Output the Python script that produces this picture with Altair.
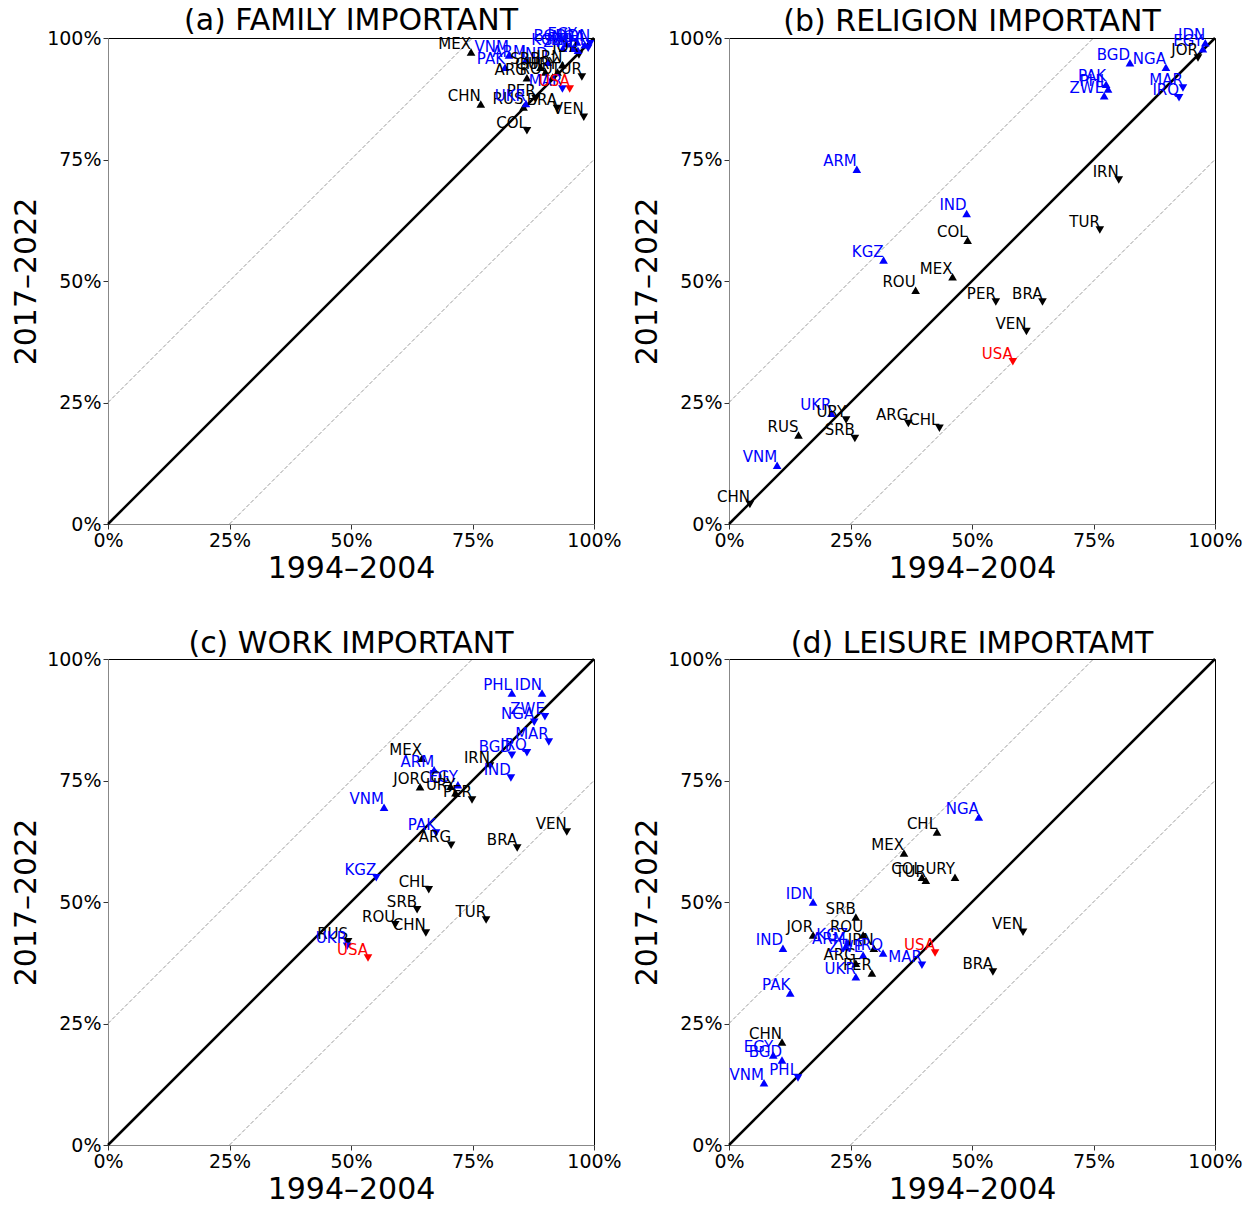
import altair as alt
import pandas as pd

countries = ["ARG", "ARM", "BGD", "BRA", "CHL", "CHN", "COL", "EGY", "IDN", "IND",
             "IRN", "IRQ", "JOR", "KGZ", "MAR", "MEX", "NGA", "PAK", "PER", "PHL",
             "ROU", "RUS", "SRB", "TUR", "UKR", "URY", "USA", "VEN", "VNM", "ZWE"]
blue_countries = ["ARM", "BGD", "EGY", "IDN", "IND", "IRQ", "KGZ", "MAR", "NGA",
                  "PAK", "PHL", "UKR", "VNM", "ZWE"]
red_countries = ["USA"]

# (a) family important: 1994-2004 (x) and 2017-2022 (y), percent
family_x = [86.2, 86.0, 94.4, 92.4, 90.0, 76.7, 86.2, 96.5, 99.2, 90.5,
            93.5, 95.7, 96.9, 93.6, 93.5, 74.7, 98.1, 81.7, 88.0, 98.8,
            91.5, 85.5, 89.0, 97.5, 86.0, 92.5, 95.0, 97.9, 82.5, 96.7]
family_y = [91.8, 95.5, 98.8, 85.5, 93.0, 86.4, 80.9, 99.2, 98.8, 95.0,
            94.5, 97.9, 96.5, 97.9, 89.5, 97.1, 98.6, 94.0, 87.5, 97.9,
            92.0, 85.8, 94.0, 92.0, 86.5, 93.0, 89.5, 83.7, 96.5, 97.5]

# (b) religion important
religion_x = [36.9, 26.3, 82.5, 64.5, 43.3, 4.3, 49.1, 97.5, 98.0, 48.9,
              80.2, 92.6, 96.5, 31.8, 93.4, 46.0, 89.9, 77.6, 54.9, 78.0,
              38.4, 14.3, 25.9, 76.3, 21.1, 24.1, 58.4, 61.2, 9.9, 77.2]
religion_y = [20.7, 73.0, 94.9, 45.7, 19.7, 4.0, 58.4, 97.8, 99.0, 63.9,
              70.8, 87.7, 95.9, 54.3, 89.7, 50.9, 94.0, 90.5, 45.7, 89.5,
              48.1, 18.3, 17.6, 60.5, 22.8, 21.4, 33.4, 39.6, 12.1, 88.1]

# (c) work important
work_x = [70.6, 67.1, 83.1, 84.2, 66.0, 65.4, 70.5, 72.0, 89.3, 82.9,
          78.6, 86.2, 64.2, 55.2, 90.7, 64.6, 87.7, 67.5, 74.9, 83.1,
          59.1, 49.4, 63.6, 77.8, 49.2, 71.5, 53.5, 94.4, 56.8, 89.9]
work_y = [61.7, 77.2, 80.2, 61.1, 52.5, 43.6, 73.8, 74.1, 93.0, 75.5,
          78.0, 80.7, 73.7, 55.0, 82.9, 79.6, 87.0, 64.2, 71.0, 93.0,
          45.3, 41.8, 48.4, 46.3, 40.9, 72.5, 38.5, 64.4, 69.5, 88.1]

# (d) leisure important (RUS not shown)
leisure_x = [26.1, 24.0, 10.9, 54.3, 42.8, 10.9, 39.7, 9.1, 17.3, 11.1,
             29.8, 31.7, 17.3, 24.5, 39.7, 36.0, 51.4, 12.6, 29.4, 14.2,
             27.6, None, 26.1, 40.5, 26.1, 46.5, 42.4, 60.5, 7.2, 27.6]
leisure_y = [37.4, 40.8, 17.5, 35.6, 64.4, 21.2, 55.1, 18.5, 50.0, 40.5,
             40.5, 39.5, 43.2, 41.6, 37.0, 60.1, 67.5, 31.3, 35.4, 13.8,
             43.2, None, 46.9, 54.5, 34.6, 55.1, 39.5, 43.8, 12.8, 39.1]

titles = ["(a) FAMILY IMPORTANT", "(b) RELIGION IMPORTANT",
          "(c) WORK IMPORTANT", "(d) LEISURE IMPORTAMT"]
series = [(family_x, family_y), (religion_x, religion_y),
          (work_x, work_y), (leisure_x, leisure_y)]

x_title = "1994–2004"
y_title = "2017–2022"
tick_values = [0, 25, 50, 75, 100]
FONT = "DejaVu Sans"
W = 486

color_scale = alt.Scale(domain=["black", "blue", "red"], range=["#000000", "#0000ff", "#ff0000"])
shape_scale = alt.Scale(domain=["up", "down"], range=["triangle-up", "triangle-down"])


def make_axis(title, title_pad):
    return alt.Axis(values=tick_values, labelExpr="datum.value + '%'", grid=False,
                    title=title, tickSize=5, tickColor="#333333", domainColor="#888888",
                    labelFontSize=19, labelFont=FONT, labelColor="black",
                    titleFontSize=30, titleFont=FONT, titleFontWeight="normal",
                    titleColor="black", labelFlush=False, labelOverlap=False,
                    labelPadding=2, titlePadding=title_pad)


def panel(title, xs, ys):
    rows = []
    for c, x, y in zip(countries, xs, ys):
        if x is None or y is None:
            continue
        grp = "red" if c in red_countries else ("blue" if c in blue_countries else "black")
        rows.append({"code": c, "x": x, "y": y, "grp": grp,
                     "dir": "up" if y > x else "down"})
    df = pd.DataFrame(rows)

    xs_ = alt.Scale(domain=[0, 100], nice=False)
    ys_ = alt.Scale(domain=[0, 100], nice=False)

    guides = pd.DataFrame({"x": [0, 75, 25, 100], "y": [25, 100, 0, 75],
                           "g": ["u", "u", "l", "l"]})
    diag = pd.DataFrame({"x": [0, 100], "y": [0, 100]})

    dashed = alt.Chart(guides).mark_line(color="#808080", strokeWidth=0.8,
                                         strokeDash=[4, 2]).encode(
        x=alt.X("x:Q", scale=xs_, axis=make_axis(x_title, 3)),
        y=alt.Y("y:Q", scale=ys_, axis=make_axis(y_title, 5)),
        detail="g:N")
    diagonal = alt.Chart(diag).mark_line(color="black", strokeWidth=2.5).encode(
        x="x:Q", y="y:Q")
    points = alt.Chart(df).mark_point(filled=True, size=75, opacity=1).encode(
        x="x:Q", y="y:Q",
        shape=alt.Shape("dir:N", scale=shape_scale, legend=None),
        color=alt.Color("grp:N", scale=color_scale, legend=None))
    labels = alt.Chart(df).mark_text(align="right", baseline="alphabetic", dy=-3,
                                     fontSize=15, font=FONT).encode(
        x="x:Q", y="y:Q", text="code:N",
        color=alt.Color("grp:N", scale=color_scale, legend=None))

    return alt.layer(dashed, diagonal, points, labels).properties(
        width=W, height=W,
        title=alt.TitleParams(title, fontSize=30, font=FONT, fontWeight="normal",
                              color="black", offset=0, dy=9))


charts = [panel(t, s[0], s[1]) for t, s in zip(titles, series)]

chart = alt.vconcat(
    alt.hconcat(charts[0], charts[1], spacing=10),
    alt.hconcat(charts[2], charts[3], spacing=10),
    spacing=44,
).properties(
    padding={"left": 3, "top": -3, "right": 0, "bottom": -5}
).configure_view(stroke="black", strokeWidth=1)

chart.save("out.html", embed_options={"renderer": "svg", "actions": False})
